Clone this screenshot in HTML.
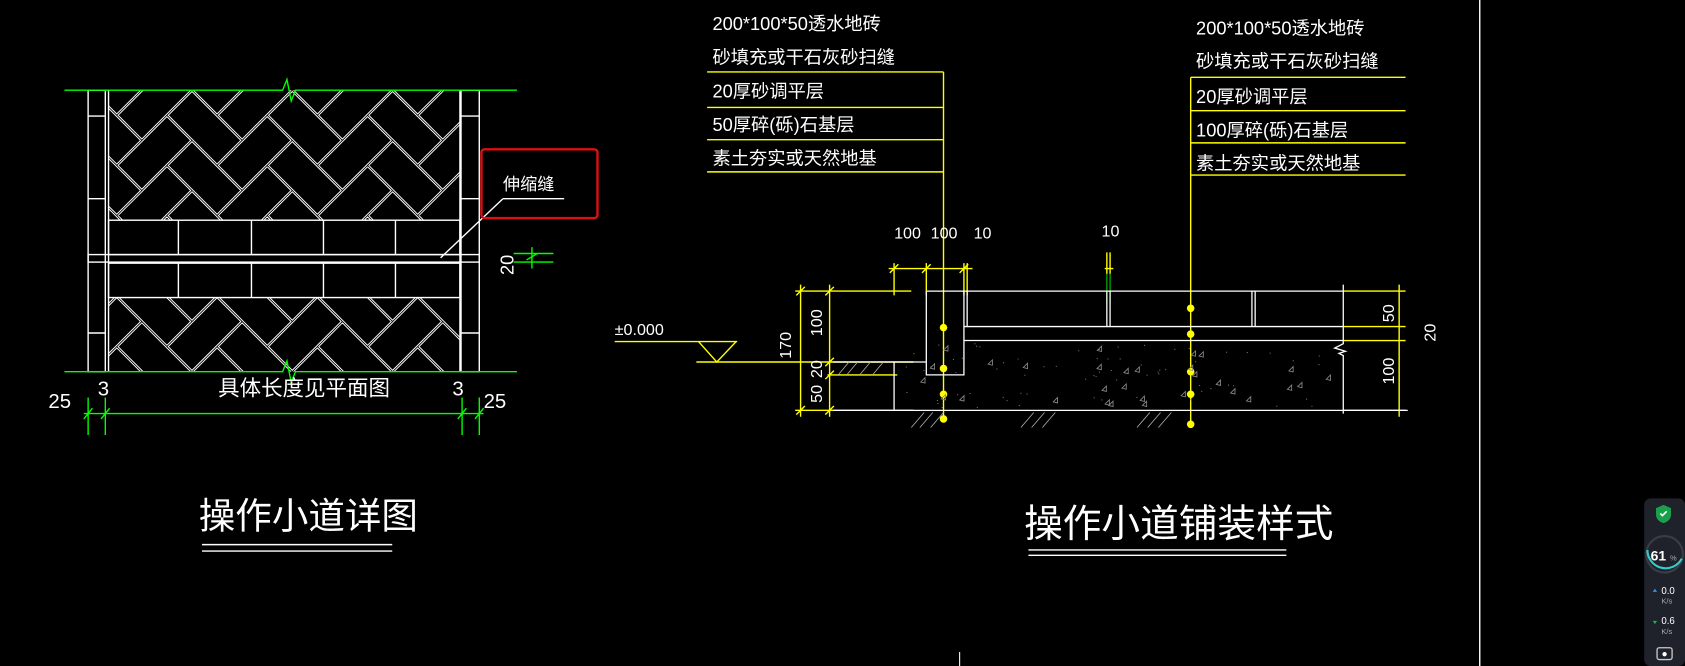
<!DOCTYPE html>
<html><head><meta charset="utf-8"><style>
html,body{margin:0;padding:0;background:#000;overflow:hidden;width:1685px;height:666px}
svg{display:block}
text{font-family:"Liberation Sans","Noto Sans CJK SC",sans-serif;fill:#fff}
</style></head><body>
<svg id="s" width="1685" height="666" viewBox="0 0 1568 620" preserveAspectRatio="none" xmlns="http://www.w3.org/2000/svg">
<rect width="1568" height="620" fill="#000"/>
<defs>
<clipPath id="c1"><rect x="101" y="84" width="327" height="121"/></clipPath>
<clipPath id="c2"><rect x="101" y="277" width="327" height="69"/></clipPath>
</defs>
<g id="hb1" clip-path="url(#c1)"></g>
<g id="hb2" clip-path="url(#c2)"></g>
<g fill="none" stroke="#fff" stroke-width="1.3">
<rect x="82" y="84" width="16" height="262"/>
<line x1="82" y1="108" x2="98" y2="108"/><line x1="82" y1="185" x2="98" y2="185"/><line x1="82" y1="310" x2="98" y2="310"/>
<rect x="429" y="84" width="17" height="262"/>
<line x1="429" y1="108" x2="446" y2="108"/><line x1="429" y1="185" x2="446" y2="185"/><line x1="429" y1="310" x2="446" y2="310"/>
<line x1="101" y1="84" x2="101" y2="346"/><line x1="428" y1="84" x2="428" y2="346"/>
<rect x="101" y="205" width="327" height="32"/>
<rect x="82" y="237" width="364" height="7"/>
<rect x="101" y="245" width="327" height="32"/>
<path d="M166 205V237M234 205V237M301 205V237M368 205V237M166 245V277M234 245V277M301 245V277M368 245V277"/>
<line x1="410" y1="240" x2="468" y2="185"/><line x1="468" y1="185" x2="525" y2="185"/>
</g>
<g stroke="#0f0" stroke-width="1.3" fill="none">
<path d="M60 84H263l4-10 4 20 4-10H481"/>
<path d="M60 346H263l4-10 4 20 4-10H481"/>
<path d="M78 385H450M82 370V405M98 370V405M430 370V405M446 370V405M78 390l8-10M94 390l8-10M426 390l8-10M442 390l8-10"/>
<path d="M478 236H515M478 244H515M495 230V250M490 242l10-6"/>
</g>
<rect x="448" y="139" width="108" height="64" rx="3" fill="none" stroke="#e01010" stroke-width="2.2"/>
<text x="468" y="177" font-size="16">伸缩缝</text>
<text transform="translate(478,256) rotate(-90)" font-size="17">20</text>
<text x="45" y="380" font-size="19">25</text>
<text x="91" y="368" font-size="19">3</text>
<text x="203" y="368" font-size="20">具体长度见平面图</text>
<text x="421" y="368" font-size="19">3</text>
<text x="450" y="380" font-size="19">25</text>
<text x="185" y="492" font-size="34">操作小道详图</text>
<path d="M188 507H365M188 513H365" stroke="#fff" stroke-width="1.3"/>
<g font-size="17">
<text x="663" y="28">200*100*50透水地砖</text>
<text x="663" y="59">砂填充或干石灰砂扫缝</text>
<text x="663" y="91">20厚砂调平层</text>
<text x="663" y="122">50厚碎(砾)石基层</text>
<text x="663" y="153">素土夯实或天然地基</text>
<text x="1113" y="32">200*100*50透水地砖</text>
<text x="1113" y="63">砂填充或干石灰砂扫缝</text>
<text x="1113" y="96">20厚砂调平层</text>
<text x="1113" y="127">100厚碎(砾)石基层</text>
<text x="1113" y="158">素土夯实或天然地基</text>
</g>
<g stroke="#ff0" stroke-width="1.3" fill="none">
<path d="M658 67H878M658 100H878M658 130H878M658 160H878M878 67V392"/>
<path d="M1108 72H1308M1108 103H1308M1108 133H1308M1108 163H1308M1108 72V397"/>
<path d="M827 250H905M832 245V275M862 245V275M897 245V275M900 245V275M828 254l8-8M858 254l8-8M893 254l8-8"/>
<path d="M1028 250H1036M1030 235V255M1033 235V255"/>
<path d="M740 271H848M648 337H850M770 349H835M740 382H850M745 265V388M772 265V388M741 275l8-8M741 386l8-8M768 275l8-8M768 341l8-8M768 353l8-8M768 386l8-8"/>
<path d="M572 318H686M650 318L667 337L685 318"/>
<path d="M1250 271H1308M1250 304H1308M1250 317H1308M1250 382H1308M1302 265V388"/>
</g>
<path d="M1030 255V283M1033 255V283" stroke="#0c0" stroke-width="1"/>
<g fill="#ff0"><circle cx="878" cy="305" r="3.5"/><circle cx="878" cy="343" r="3.5"/><circle cx="878" cy="367" r="3.5"/><circle cx="878" cy="390" r="3.5"/>
<circle cx="1108" cy="287" r="3.5"/><circle cx="1108" cy="311" r="3.5"/><circle cx="1108" cy="346" r="3.5"/><circle cx="1108" cy="367" r="3.5"/><circle cx="1108" cy="395" r="3.5"/></g>
<g stroke="#fff" stroke-width="1.2" fill="none">
<path d="M862 271H1250M862 271V349H897V304M897 271V304M900 271V304M1030 271V304M1033 271V304M1165 271V304M1168 271V304"/>
<path d="M897 304H1250M897 317H1250M775 337H862M832 337V382M775 382H1310M1250 265V320l-8 4 10 3-6 2 4 2V385"/>
</g>
<g id="grav" fill="none" stroke="#888" stroke-width="0.8"></g>
<g stroke="#aaa" stroke-width="0.8">
<path d="M780 349l10-12M788 349l10-12M800 349l10-12M812 349l10-12M848 398l12-14M856 398l12-14M866 398l12-14M950 398l12-14M960 398l12-14M970 398l12-14M1058 398l12-14M1068 398l12-14M1078 398l12-14"/>
</g>
<g font-size="15">
<text x="572" y="312">±0.000</text>
<text x="832" y="222">100</text><text x="866" y="222">100</text><text x="906" y="222">10</text>
<text x="1025" y="220">10</text>
<text transform="translate(736,334) rotate(-90)">170</text>
<text transform="translate(765,313) rotate(-90)">100</text>
<text transform="translate(765,352) rotate(-90)">20</text>
<text transform="translate(765,375) rotate(-90)">50</text>
<text transform="translate(1297,300) rotate(-90)">50</text>
<text transform="translate(1336,318) rotate(-90)">20</text>
<text transform="translate(1297,358) rotate(-90)">100</text>
</g>
<text x="953" y="500" font-size="36">操作小道铺装样式</text>
<path d="M957 512H1197M957 517H1197" stroke="#fff" stroke-width="1.3"/>
<line x1="1377" y1="0" x2="1377" y2="620" stroke="#fff" stroke-width="1.3"/>
<line x1="893" y1="607" x2="893" y2="620" stroke="#fff" stroke-width="1"/>
<rect x="1530" y="464" width="38" height="156" rx="6" fill="#1f222a"/>
<path d="M1541 473l7-3 7 3v6c0 4-3 7-7 8-4-1-7-4-7-8z" fill="#1a9f4a"/>
<path d="M1545 478l2 2 4-4" stroke="#fff" stroke-width="1.5" fill="none"/>
<circle cx="1549" cy="516" r="17" fill="none" stroke="#3a3d45" stroke-width="2"/>
<path d="M1533 512a17 17 0 0 0 32 8" fill="none" stroke="#3cc" stroke-width="2"/>
<text x="1536" y="522" font-size="13" font-weight="bold">61</text><text x="1554" y="522" font-size="7" style="fill:#aaa">%</text>
<text x="1546" y="553" font-size="9">0.0</text><text x="1546" y="562" font-size="7" style="fill:#aaa">K/s</text>
<text x="1546" y="581" font-size="9">0.6</text><text x="1546" y="590" font-size="7" style="fill:#aaa">K/s</text>
<path d="M1538 551l2-3 2 3z" fill="#29f"/><path d="M1538 578l2 3 2-3z" fill="#1b5"/>
<rect x="1542" y="603" width="14" height="11" rx="2" fill="none" stroke="#ccc" stroke-width="1.2"/>
<circle cx="1549" cy="609" r="2" fill="#fff"/>
</svg>
<script>
var NS="http://www.w3.org/2000/svg";
function hb(id,ox,oy,flip){
 var g=document.getElementById(id),u=33;
 var outer=document.createElementNS(NS,"g");
 outer.setAttribute("transform","translate("+ox+","+oy+") scale(1,"+(flip?-1:1)+") rotate(45)");
 var s="";
 for(var k=-6;k<=6;k++)for(var i=-10;i<=10;i++){
  var tx=4*k;
  s+="M"+((i+tx)*u)+" "+(i*u)+"h"+(2*u)+"v"+u+"h"+(-2*u)+"z";
  s+="M"+((i+2+tx)*u)+" "+((i-1)*u)+"h"+u+"v"+(2*u)+"h"+(-u)+"z";
 }
 var p=document.createElementNS(NS,"path");p.setAttribute("d",s);p.setAttribute("fill","none");p.setAttribute("stroke","#fff");p.setAttribute("stroke-width","2.6");
 var p2=p.cloneNode();p2.setAttribute("stroke","#000");p2.setAttribute("stroke-width","0.8");
 outer.appendChild(p);outer.appendChild(p2);g.appendChild(outer);
}
hb("hb1",272,84,false);hb("hb2",272,346,true);
var gr=document.getElementById("grav"),d="";
var seed=7;function r(){seed=(seed*9301+49297)%233280;return seed/233280;}
for(var i=0;i<70;i++){var x=840+r()*405,y=320+r()*60;d+="M"+x+" "+y+"h1";}
for(var i=0;i<30;i++){var x=845+r()*400,y=322+r()*56;d+="M"+x+" "+y+"l4 -4v5z";}
var gp=document.createElementNS(NS,"path");gp.setAttribute("d",d);gr.appendChild(gp);
</script>
</body></html>
